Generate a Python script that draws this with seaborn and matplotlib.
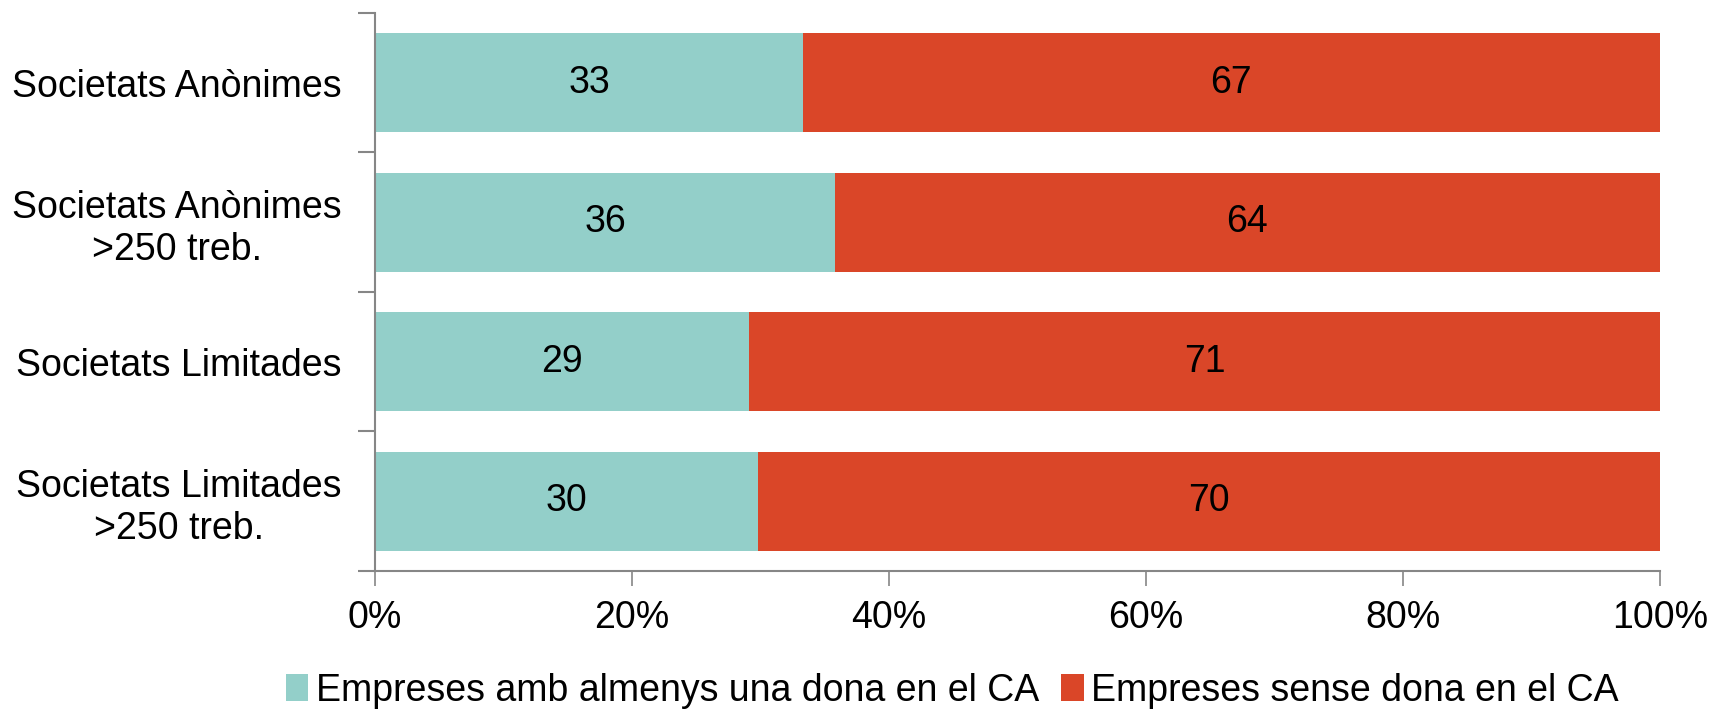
import matplotlib
matplotlib.use("Agg")
import matplotlib.pyplot as plt
from matplotlib.patches import Patch
from matplotlib.ticker import FixedLocator, PercentFormatter
import seaborn as sns
import pandas as pd

# dades
categories = ["Societats Anònimes", "Societats Anònimes\n>250 treb.",
              "Societats Limitades", "Societats Limitades\n>250 treb."]
amb_dona = [33.3, 35.8, 29.1, 29.8]
sense_dona = [66.7, 64.2, 70.9, 70.2]
series = ["Empreses amb almenys una dona en el CA", "Empreses sense dona en el CA"]
x_ticks = [0, 20, 40, 60, 80, 100]

col_teal = "#93CFC9"
col_red = "#DA4628"
col_axis = "#868686"
fs = 27

sns.set_theme(style="white")
plt.rcParams["font.family"] = ["Liberation Sans", "DejaVu Sans"]
plt.rcParams["font.size"] = fs
plt.rcParams["text.color"] = "black"
plt.rcParams["xtick.color"] = "black"
plt.rcParams["ytick.color"] = "black"

tabela = pd.DataFrame({"cat": categories, "amb": amb_dona, "sense": sense_dona})
tabela["total"] = tabela["amb"] + tabela["sense"]

fig = plt.figure(figsize=(17.13, 7.12), dpi=100)
ax = fig.add_axes([0.219, 0.198, 0.75, 0.784])

# barra vermella = total, la verda a sobre
sns.barplot(data=tabela, x="total", y="cat", color=col_red, width=0.71,
            saturation=1, ax=ax, orient="h", linewidth=0)
sns.barplot(data=tabela, x="amb", y="cat", color=col_teal, width=0.71,
            saturation=1, ax=ax, orient="h", linewidth=0)

red_bars = ax.containers[0]
teal_bars = ax.containers[1]
ax.bar_label(teal_bars, labels=[f"{v:.0f}" for v in amb_dona],
             label_type="center", fontsize=fs, color="black")
# etiqueta vermella al centre del segment vermell
for bar, a, s in zip(red_bars, amb_dona, sense_dona):
    yc = bar.get_y() + bar.get_height() / 2
    ax.text(a + s / 2, yc, f"{s:.0f}", ha="center", va="center",
            fontsize=fs, color="black")

ax.set_xlim(0, 100)
ax.set_ylim(3.5, -0.5)
ax.set_xlabel("")
ax.set_ylabel("")

ax.xaxis.set_major_locator(FixedLocator(x_ticks))
ax.xaxis.set_major_formatter(PercentFormatter(decimals=0))
ax.tick_params(axis="x", which="major", length=11, width=1.2, color=col_axis,
               direction="out", pad=10, labelsize=fs, labelcolor="black", bottom=True)

ax.tick_params(axis="y", which="major", length=0, pad=24, labelsize=fs,
               labelcolor="black")
ax.yaxis.set_minor_locator(FixedLocator([-0.5, 0.5, 1.5, 2.5, 3.5]))
ax.tick_params(axis="y", which="minor", length=12, width=1.5, color=col_axis,
               direction="out", left=True)
for lab in ax.get_yticklabels():
    lab.set_multialignment("center")

for side in ["top", "right"]:
    ax.spines[side].set_visible(False)
for side in ["left", "bottom"]:
    ax.spines[side].set_color(col_axis)
    ax.spines[side].set_linewidth(1.5)

handles = [Patch(facecolor=col_teal, edgecolor="none"),
           Patch(facecolor=col_red, edgecolor="none")]
fig.legend(handles, series, loc="center", bbox_to_anchor=(0.556, 0.03),
           ncol=2, frameon=False, fontsize=fs, handlelength=0.6,
           handleheight=0.7, handletextpad=0.2, columnspacing=0.6)

fig.savefig("out.png", dpi=100)
